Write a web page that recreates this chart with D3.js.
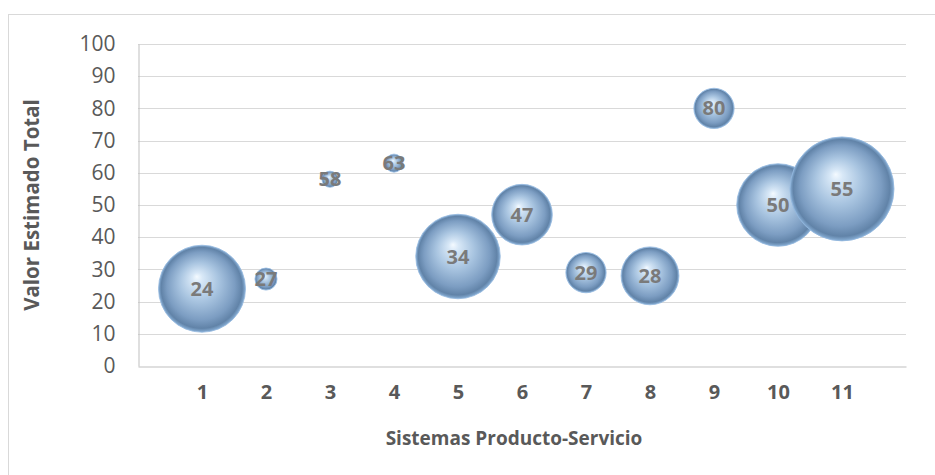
<!DOCTYPE html>
<html>
<head>
<meta charset="utf-8">
<script src="https://cdn.jsdelivr.net/npm/d3@7"></script>
<style>
  html, body { margin: 0; padding: 0; background: #ffffff; }
  svg { display: block; }
</style>
</head>
<body>
<svg id="chart" width="935" height="475"></svg>
<script>
// Sistemas producto-servicio: posición, valor estimado y tamaño de burbuja
const sistemas = [1, 2, 3, 4, 5, 6, 7, 8, 9, 10, 11];
const valores  = [24, 27, 58, 63, 34, 47, 29, 28, 80, 50, 55];
const tamanos  = [70, 4.5, 2.4, 3, 66, 34, 15, 31, 15, 63, 100];
const yTicks   = [0, 10, 20, 30, 40, 50, 60, 70, 80, 90, 100];

const svg = d3.select("#chart");
const W = 935, H = 475;
const plot = { left: 138, right: 906, top: 44, bottom: 366 };
const FONT = "'Open Sans', 'Liberation Sans', sans-serif";

// marco exterior del gráfico
svg.append("rect")
  .attr("x", 8.5).attr("y", 14.5)
  .attr("width", W + 10).attr("height", H + 10)
  .attr("fill", "#ffffff")
  .attr("stroke", "#d9d9d9").attr("stroke-width", 1);

const x = d3.scaleLinear().domain([0, 12]).range([plot.left, plot.right]);
const y = d3.scaleLinear().domain([0, 100]).range([plot.bottom, plot.top]);
const r = d3.scaleSqrt().domain([0, 100]).range([0, 52]);

// líneas de división horizontales
svg.append("g")
  .selectAll("line")
  .data(yTicks.filter(t => t > 0))
  .join("line")
  .attr("x1", plot.left).attr("x2", plot.right)
  .attr("y1", d => Math.round(y(d)) + 0.5).attr("y2", d => Math.round(y(d)) + 0.5)
  .attr("stroke", "#d9d9d9").attr("stroke-width", 1);

// eje Y
const yAxis = svg.append("g")
  .attr("transform", `translate(${plot.left + 0.5},0)`)
  .call(d3.axisLeft(y).tickValues(yTicks).tickSize(0).tickPadding(23));
yAxis.select(".domain").attr("stroke", "#bfbfbf");
yAxis.selectAll("text")
  .attr("font-family", FONT).attr("font-size", 21)
  .attr("fill", "#595959");

// eje X
const xAxis = svg.append("g")
  .attr("transform", `translate(0,${plot.bottom + 0.5})`)
  .call(d3.axisBottom(x).tickValues(sistemas).tickFormat(d3.format("d")).tickSize(0).tickPadding(18));
xAxis.select(".domain").attr("stroke", "#bfbfbf");
xAxis.selectAll("text")
  .attr("font-family", FONT).attr("font-size", 20).attr("font-weight", "bold")
  .attr("fill", "#595959");

// títulos de ejes
svg.append("text")
  .attr("x", (plot.left + plot.right) / 2 - 8).attr("y", 445)
  .attr("text-anchor", "middle")
  .attr("font-family", FONT).attr("font-size", 19).attr("font-weight", "bold")
  .attr("fill", "#595959")
  .text("Sistemas Producto-Servicio");

svg.append("text")
  .attr("transform", `translate(39,${(plot.top + plot.bottom) / 2}) rotate(-90)`)
  .attr("text-anchor", "middle")
  .attr("font-family", FONT).attr("font-size", 20.5).attr("font-weight", "bold")
  .attr("fill", "#595959")
  .text("Valor Estimado Total");

// sombreado esférico de las burbujas
const defs = svg.append("defs");
const grad = defs.append("radialGradient")
  .attr("id", "esfera")
  .attr("cx", "50%").attr("cy", "50%").attr("r", "50%")
  .attr("fx", "44%").attr("fy", "36%");
[
  ["0%",   "#f4faff"],
  ["12%",  "#d8e8f7"],
  ["45%",  "#a8c4e0"],
  ["78%",  "#7c9dc2"],
  ["93%",  "#6183a8"],
  ["100%", "#88afd6"]
].forEach(([o, c]) => grad.append("stop").attr("offset", o).attr("stop-color", c));

const datos = sistemas.map((s, i) => ({ s, v: valores[i], t: tamanos[i] }));

const burbujas = svg.append("g");
burbujas.selectAll("circle")
  .data(datos)
  .join("circle")
  .attr("cx", d => x(d.s))
  .attr("cy", d => y(d.v))
  .attr("r", d => r(d.t))
  .attr("fill", "url(#esfera)")
  .attr("stroke", "#93b8de").attr("stroke-width", 0.8);

// etiquetas de valor
svg.append("g")
  .selectAll("text")
  .data(datos)
  .join("text")
  .attr("x", d => x(d.s))
  .attr("y", d => y(d.v))
  .attr("dy", "0.35em")
  .attr("text-anchor", "middle")
  .attr("font-family", FONT).attr("font-size", 20).attr("font-weight", "bold")
  .attr("fill", "#7a7a7a")
  .text(d => d.v);
</script>
</body>
</html>
